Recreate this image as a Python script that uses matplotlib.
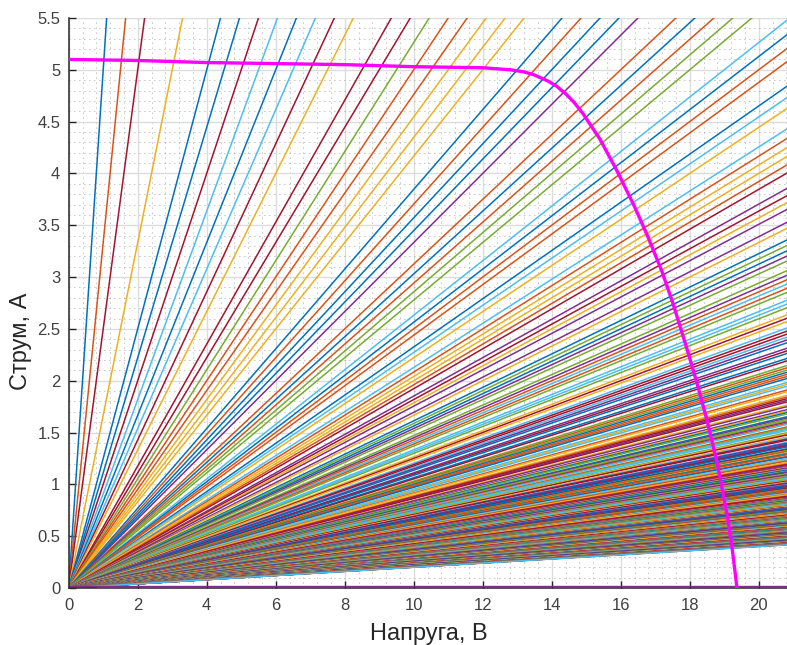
import numpy as np
from matplotlib import pyplot as plt
from matplotlib.ticker import MultipleLocator, AutoMinorLocator

# опори навантаження (в десятих Ом)
r_top_tenths = [2, 3, 4, 6, 8, 9, 10, 11, 12, 13, 14, 15, 17, 18, 19, 20,
                21, 22, 23, 24, 26, 27, 28, 29, 30, 32, 33, 34, 35, 36, 38]
r_top_colors = "borybbrlblryrrgooyyybobbpobogg" + "l"

r_dense_tenths = [
    39,
    40, 41, 43, 44, 45, 47, 48, 49,
    50, 51, 52, 54, 55, 56, 57, 59,
    60, 62, 63, 64, 65, 66, 68, 69,
    70, 71, 72, 73, 75, 76, 77, 79,
    80, 81, 83, 84, 85, 86, 87, 88,
    90, 91, 92, 94, 95, 97, 98, 99,
    100, 101, 102, 103, 105, 106, 107, 109,
    110, 112, 113, 114, 115, 116, 118, 119,
    121, 122, 123, 124, 126, 127, 128, 129,
    130, 131, 132, 134, 135, 136, 137, 139,
    140, 141, 143, 144, 145, 146, 148, 149,
    150, 151, 152, 153, 155, 156, 157, 158,
    160, 161, 162, 164, 165, 167, 168, 169,
    170, 172, 173, 174, 175, 176, 178, 179,
    180, 181, 182, 183, 185, 186, 187, 189,
    190, 191, 193, 194, 195, 196, 197, 199,
    200, 201, 202, 204, 205, 206, 208, 209,
    210, 211, 213, 214, 215, 216, 217, 219,
    220, 222, 223, 224, 225, 227, 228, 229,
    230, 231, 232, 233, 235, 236, 238, 239,
    241, 242, 243, 244, 245, 246, 248, 249,
    250, 251, 253, 254, 255, 256, 257, 258,
    260, 261, 262, 264, 265, 267, 268, 269,
    270, 271, 272, 274, 275, 276, 277, 279,
    280, 282, 283, 284, 285, 286, 288, 289,
    290, 291, 292, 293, 295, 296, 297, 299,
    300, 301, 303, 304, 305, 307, 308, 309,
    310, 311, 312, 314, 315, 316, 318, 319,
    320, 322, 323, 324, 325, 326, 327, 329,
    330, 331, 332, 334, 335, 337, 338, 339,
    340, 341, 343, 344, 345, 346, 347, 349,
    351, 352, 353, 354, 355, 356, 358, 359,
    360, 361, 362, 363, 365, 366, 367, 369,
    370, 372, 373, 374, 376, 377, 378, 379,
    380, 381, 382, 384, 385, 386, 388, 389,
    390, 391, 393, 394, 395, 396, 397, 399,
    400, 401, 402, 403, 405, 406, 408, 409,
    410, 412, 413, 414, 415, 416, 417, 419,
    420, 421, 422, 424, 425, 427, 428, 429,
    430, 431, 433, 434, 435, 436, 438, 439,
    440, 441, 442, 443, 445, 446, 447, 449,
    450, 452, 453, 454, 455, 456, 458, 459,
    460, 461, 462, 464, 465, 466, 467, 469,
    470, 471, 473, 474, 475, 477, 478, 479,
    480, 481, 482, 483, 485, 486, 488, 489,
    490, 492, 493, 494, 495, 496, 497, 499,
    500,
]

v_sweep = [0.0, 22.0]
i_open = 0.015

# ВАХ сонячної батареї
v_pv = [0, 2, 4, 6, 8, 10, 12, 12.8, 13.2, 13.5, 13.9, 14.15, 14.4, 14.65,
        14.9, 15.4, 15.9, 16.4, 16.8, 17.2, 17.5, 17.9, 18.2, 18.5, 18.8,
        19.1, 19.25, 19.37]
i_pv = [5.10, 5.09, 5.07, 5.06, 5.05, 5.03, 5.02, 5.00, 4.98, 4.95, 4.89,
        4.84, 4.77, 4.685, 4.58, 4.33, 4.02, 3.68, 3.38, 3.05, 2.76, 2.33,
        1.99, 1.62, 1.20, 0.68, 0.33, 0.0]

palette = {'b': '#0072BD', 'o': '#D95319', 'y': '#EDB120', 'p': '#7E2F8E',
           'g': '#77AC30', 'l': '#4DBEEE', 'r': '#A2142F'}
cycle = list(palette.values())

plt.rcParams['font.family'] = ['Liberation Sans', 'DejaVu Sans']

fig = plt.figure(figsize=(7.87, 6.45), dpi=100)
ax = fig.add_axes([0.0873, 0.0884, 0.9127, 0.8837])

v = np.array(v_sweep)
for r, c in zip(r_top_tenths, r_top_colors):
    ax.plot(v, v / (r / 10), color=palette[c], lw=1.1)

for i, r in enumerate(r_dense_tenths):
    c = cycle[(i * i * 3 + i * 5 + i // 7) % 7]
    ax.plot(v, v / (r / 10), color=c, lw=1.1)

ax.plot(v, [i_open, i_open], color=palette['p'], lw=1.0)
ax.plot(v_pv, i_pv, color='#FF00FF', lw=2.4, zorder=5)

ax.set_xlim(0, 20.82)
ax.set_ylim(0, 5.5)
ax.xaxis.set_major_locator(MultipleLocator(2))
ax.yaxis.set_major_locator(MultipleLocator(0.5))
ax.xaxis.set_minor_locator(AutoMinorLocator(5))
ax.yaxis.set_minor_locator(AutoMinorLocator(5))
ax.yaxis.set_major_formatter(plt.FuncFormatter(lambda y, p: f"{y:g}"))

ax.set_axisbelow(True)
ax.grid(True, which='major', color='#dcdcdc', lw=1.0)
ax.grid(True, which='minor', color='#8a8a8a', lw=0.6, linestyle=(0, (1, 5)))

for s in ['top', 'right']:
    ax.spines[s].set_visible(False)
for s in ['left', 'bottom']:
    ax.spines[s].set_color('#262626')
    ax.spines[s].set_linewidth(1.1)

ax.tick_params(which='major', direction='in', length=5, width=1.0,
               colors='#262626', labelsize=12, labelcolor='#404040')
ax.tick_params(axis='x', pad=7)
ax.tick_params(axis='y', pad=6)
ax.tick_params(which='minor', length=0)

ax.set_xlabel('Напруга, В', fontsize=17, color='#262626')
ax.set_ylabel('Струм, А', fontsize=17, color='#262626')
ax.xaxis.set_label_coords(0.502, -0.061)
ax.yaxis.set_label_coords(-0.051, 0.433)

plt.savefig('out.png', dpi=100)
